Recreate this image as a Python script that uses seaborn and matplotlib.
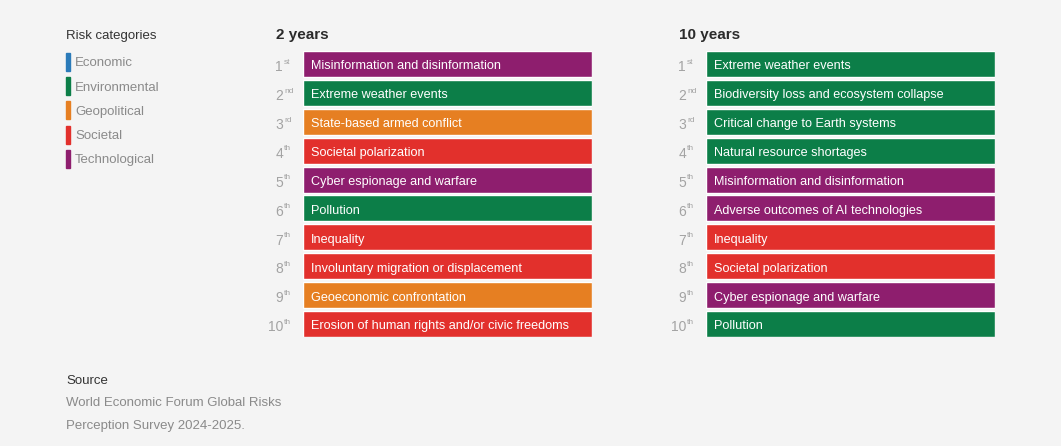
import pandas as pd
import matplotlib.pyplot as plt
import seaborn as sns

# data
risks_2y = ["Misinformation and disinformation", "Extreme weather events",
            "State-based armed conflict", "Societal polarization",
            "Cyber espionage and warfare", "Pollution", "Inequality",
            "Involuntary migration or displacement", "Geoeconomic confrontation",
            "Erosion of human rights and/or civic freedoms"]
cats_2y = ["Technological", "Environmental", "Geopolitical", "Societal",
           "Technological", "Environmental", "Societal", "Societal",
           "Geopolitical", "Societal"]

risks_10y = ["Extreme weather events", "Biodiversity loss and ecosystem collapse",
             "Critical change to Earth systems", "Natural resource shortages",
             "Misinformation and disinformation", "Adverse outcomes of AI technologies",
             "Inequality", "Societal polarization", "Cyber espionage and warfare",
             "Pollution"]
cats_10y = ["Environmental", "Environmental", "Environmental", "Environmental",
            "Technological", "Technological", "Societal", "Societal",
            "Technological", "Environmental"]

ranks = ["1", "2", "3", "4", "5", "6", "7", "8", "9", "10"]
suffixes = ["st", "nd", "rd", "th", "th", "th", "th", "th", "th", "th"]

categories = ["Economic", "Environmental", "Geopolitical", "Societal", "Technological"]
palette = {"Economic": "#2b7bb9", "Environmental": "#0c7e48",
           "Geopolitical": "#e67f22", "Societal": "#e2302c",
           "Technological": "#8e1e6e"}

bg = "#f4f4f4"
sns.set_theme(style="white")
plt.rcParams["font.family"] = ["Liberation Sans", "DejaVu Sans"]

fig = plt.figure(figsize=(10.61, 4.46), dpi=100, facecolor=bg)


def panel(left, title, risks, cats):
    ax = fig.add_axes([left / 1061, 1 - 337 / 446, 289 / 1061, 286 / 446])
    df = pd.DataFrame({"rank": ranks, "risk": risks, "cat": cats, "v": [1] * len(ranks)})
    sns.barplot(data=df, x="v", y="rank", hue="cat", palette=palette, dodge=False,
                width=0.9, legend=False, ax=ax, saturation=1, order=ranks)
    ax.set_xlim(0, 1)
    ax.set_ylim(9.45, -0.45)
    ax.axis("off")
    for i, r in enumerate(risks):
        ax.annotate(r, xy=(0, i), xycoords=("axes fraction", "data"),
                    xytext=(5.8, -0.7), textcoords="offset points",
                    color="white", fontsize=9.1, va="center_baseline", ha="left")
        ax.annotate(ranks[i], xy=(0, i), xycoords=("axes fraction", "data"),
                    xytext=(-14.4, -1.2), textcoords="offset points",
                    color="#a3a3a3", fontsize=10, va="center_baseline", ha="right")
        ax.annotate(suffixes[i], xy=(0, i), xycoords=("axes fraction", "data"),
                    xytext=(-13.6, 2.0), textcoords="offset points",
                    color="#a3a3a3", fontsize=6, va="center_baseline", ha="left")
    fig.text((left - 27) / 1061, 1 - 34 / 446, title, fontsize=11, fontweight="bold",
             color="#2b2b2b", va="center_baseline", ha="left")
    return ax


panel(303, "2 years", risks_2y, cats_2y)
panel(706, "10 years", risks_10y, cats_10y)

# legend
fig.text(66 / 1061, 1 - 34 / 446, "Risk categories", fontsize=9.5, color="#333333",
         va="center_baseline", ha="left")
for j, c in enumerate(categories):
    yc = 62 + j * 24.2
    fig.patches.append(plt.Rectangle((66 / 1061, 1 - (yc + 9) / 446), 3.5 / 1061, 18 / 446,
                                     transform=fig.transFigure, color=palette[c]))
    fig.text(75 / 1061, 1 - yc / 446, c, fontsize=9.5, color="#8a8a8a",
             va="center_baseline", ha="left")

# source
fig.text(66 / 1061, 1 - 380 / 446, "Source", fontsize=9.5, color="#333333",
         va="center_baseline", ha="left")
fig.text(66 / 1061, 1 - 401 / 446, "World Economic Forum Global Risks", fontsize=9.5,
         color="#8a8a8a", va="center_baseline", ha="left")
fig.text(66 / 1061, 1 - 424 / 446, "Perception Survey 2024-2025.", fontsize=9.5,
         color="#8a8a8a", va="center_baseline", ha="left")

fig.savefig("out.png", dpi=100, facecolor=bg)
